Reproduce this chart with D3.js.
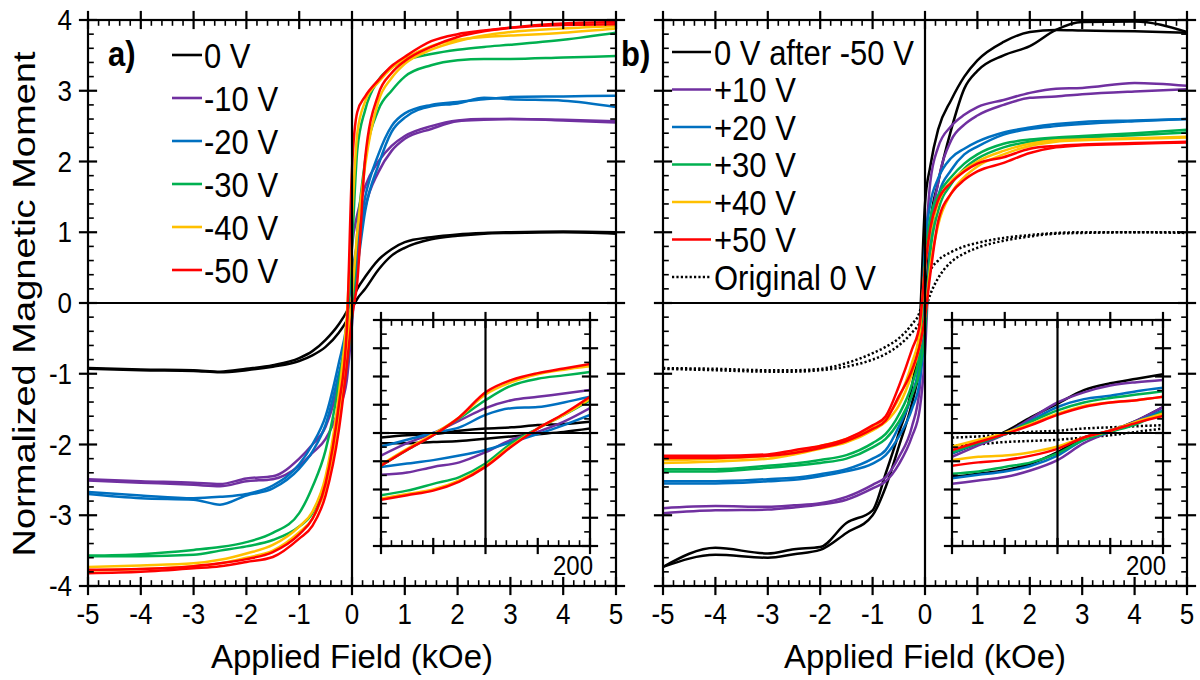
<!DOCTYPE html>
<html><head><meta charset="utf-8">
<script src="https://cdn.jsdelivr.net/npm/d3@7"></script>
<style>
body{margin:0;background:#fff}
svg{display:block}
text{font-family:"Liberation Sans",Arial,Helvetica,sans-serif;fill:#000}
</style>
</head><body>
<svg id="chart" width="1200" height="680"></svg>
<script>
// Applied field grid (kOe) shared by every main-panel branch
const field = [-5,-4,-3,-2.5,-2,-1.5,-1,-0.75,-0.5,-0.25,-0.1,0,0.1,0.25,0.5,0.75,1,1.5,2,2.5,3,4,5];

// Panel a) — normalized moment, descending (down) and ascending (up) field branches
const a0Down  = [-0.92,-0.94,-0.95,-0.97,-0.93,-0.88,-0.78,-0.68,-0.52,-0.30,-0.12,0.05,0.20,0.37,0.61,0.76,0.86,0.93,0.97,0.99,1.00,1.01,1.00];
const a0Up    = [-0.93,-0.95,-0.96,-0.98,-0.95,-0.90,-0.82,-0.74,-0.62,-0.42,-0.25,-0.08,0.06,0.20,0.47,0.67,0.78,0.90,0.95,0.98,0.99,1.00,0.98];
const a10Down = [-2.49,-2.52,-2.54,-2.56,-2.48,-2.45,-2.20,-2.00,-1.75,-1.10,-0.35,0.80,1.25,1.65,2.00,2.22,2.36,2.50,2.58,2.60,2.60,2.58,2.55];
const a10Up   = [-2.51,-2.54,-2.57,-2.59,-2.52,-2.49,-2.30,-2.12,-1.92,-1.50,-1.10,-0.30,0.70,1.35,1.85,2.15,2.32,2.46,2.57,2.59,2.60,2.59,2.57];
const a20Down = [-2.67,-2.72,-2.76,-2.74,-2.70,-2.58,-2.28,-2.00,-1.60,-0.85,-0.30,0.40,0.85,1.50,2.10,2.50,2.68,2.80,2.84,2.88,2.91,2.92,2.93];
const a20Up   = [-2.70,-2.76,-2.78,-2.85,-2.72,-2.62,-2.34,-2.10,-1.72,-1.00,-0.50,0.00,0.50,1.30,1.95,2.42,2.62,2.78,2.82,2.90,2.88,2.86,2.77];
const a30Down = [-3.57,-3.55,-3.49,-3.45,-3.38,-3.25,-2.97,-2.60,-2.08,-1.13,-0.30,0.80,2.16,2.73,3.15,3.33,3.43,3.52,3.58,3.62,3.65,3.72,3.82];
const a30Up   = [-3.58,-3.58,-3.56,-3.50,-3.44,-3.35,-3.16,-2.97,-2.50,-1.60,-0.90,-0.20,1.00,2.02,2.73,3.00,3.20,3.36,3.43,3.45,3.45,3.47,3.49];
const a40Down = [-3.73,-3.71,-3.68,-3.63,-3.54,-3.42,-3.16,-2.95,-2.45,-1.30,-0.20,1.20,2.40,2.85,3.12,3.32,3.45,3.63,3.72,3.76,3.78,3.82,3.88];
const a40Up   = [-3.78,-3.76,-3.72,-3.68,-3.60,-3.50,-3.24,-3.05,-2.60,-1.60,-0.60,0.10,1.00,1.95,2.85,3.18,3.38,3.58,3.70,3.78,3.83,3.88,3.91];
const a50Down = [-3.77,-3.76,-3.72,-3.68,-3.62,-3.52,-3.27,-3.05,-2.55,-1.45,-0.40,1.90,2.70,2.92,3.15,3.35,3.48,3.70,3.80,3.85,3.89,3.93,3.94];
const a50Up   = [-3.82,-3.80,-3.75,-3.72,-3.66,-3.59,-3.33,-3.15,-2.72,-1.80,-0.90,-0.20,0.30,2.05,2.95,3.25,3.42,3.62,3.76,3.84,3.89,3.95,3.97];

// Panel b)
const bAfterDown = [-3.73,-3.46,-3.54,-3.48,-3.45,-3.11,-2.93,-2.41,-1.84,-1.18,-0.30,1.40,1.93,2.45,2.87,3.20,3.43,3.69,3.83,3.86,3.85,3.84,3.82];
const bAfterUp   = [-3.73,-3.56,-3.60,-3.55,-3.49,-3.25,-3.00,-2.60,-2.03,-1.42,-0.90,-0.20,1.10,1.70,2.45,3.03,3.28,3.50,3.63,3.86,3.97,3.98,3.83];
const b10Down = [-2.90,-2.87,-2.88,-2.86,-2.83,-2.74,-2.57,-2.46,-2.18,-1.75,-1.20,0.60,1.70,2.20,2.50,2.66,2.77,2.87,2.97,3.03,3.04,3.11,3.07];
const b10Up   = [-2.97,-2.93,-2.92,-2.89,-2.85,-2.78,-2.62,-2.52,-2.28,-1.89,-1.50,-0.70,0.90,1.70,2.30,2.52,2.65,2.80,2.90,2.92,2.95,2.99,3.02];
const b20Down = [-2.52,-2.52,-2.49,-2.47,-2.42,-2.35,-2.20,-2.08,-1.75,-1.30,-0.80,0.80,1.40,1.76,2.05,2.18,2.28,2.41,2.48,2.53,2.56,2.58,2.60];
const b20Up   = [-2.55,-2.55,-2.52,-2.50,-2.45,-2.38,-2.27,-2.15,-1.89,-1.50,-1.10,-0.40,0.80,1.50,1.88,2.10,2.21,2.38,2.46,2.50,2.53,2.57,2.60];
const b30Down = [-2.35,-2.35,-2.30,-2.27,-2.22,-2.15,-1.98,-1.85,-1.58,-1.15,-0.70,0.60,1.20,1.52,1.78,1.97,2.10,2.25,2.31,2.34,2.36,2.40,2.45];
const b30Up   = [-2.38,-2.38,-2.33,-2.30,-2.26,-2.20,-2.04,-1.92,-1.68,-1.30,-0.95,-0.40,0.70,1.30,1.68,1.90,2.04,2.20,2.28,2.32,2.34,2.37,2.41];
const b40Down = [-2.22,-2.20,-2.16,-2.10,-2.02,-1.92,-1.75,-1.62,-1.35,-0.85,-0.40,0.50,1.00,1.42,1.72,1.88,2.00,2.15,2.25,2.30,2.31,2.33,2.35];
const b40Up   = [-2.26,-2.24,-2.20,-2.14,-2.06,-1.97,-1.80,-1.68,-1.45,-1.00,-0.60,-0.20,0.50,1.10,1.55,1.78,1.93,2.10,2.22,2.28,2.30,2.32,2.34];
const b50Down = [-2.16,-2.16,-2.14,-2.08,-2.02,-1.92,-1.73,-1.60,-1.18,-0.66,-0.30,0.50,1.05,1.45,1.70,1.86,1.97,2.06,2.18,2.22,2.24,2.26,2.28];
const b50Up   = [-2.19,-2.19,-2.16,-2.12,-2.05,-1.95,-1.78,-1.66,-1.32,-0.95,-0.60,-0.20,0.40,1.15,1.55,1.74,1.86,1.98,2.12,2.20,2.23,2.25,2.27];
const bOrigDown = [-0.92,-0.93,-0.95,-0.95,-0.93,-0.85,-0.71,-0.62,-0.50,-0.30,-0.12,0.20,0.45,0.60,0.72,0.80,0.85,0.92,0.96,0.99,1.00,1.00,0.99];
const bOrigUp   = [-0.93,-0.95,-0.97,-0.97,-0.95,-0.90,-0.80,-0.72,-0.60,-0.42,-0.28,-0.10,0.12,0.35,0.58,0.70,0.78,0.88,0.94,0.98,0.99,1.00,1.00];

// Low-field insets: field in Oe
const insetField = [-200,-150,-100,-50,0,50,100,150,200];
const ia0Down  = [-0.04,-0.02,-0.01,0.02,0.04,0.05,0.07,0.08,0.10];
const ia0Up    = [-0.09,-0.09,-0.08,-0.07,-0.05,-0.03,-0.01,0.01,0.04];
const ia10Down = [-0.20,-0.09,0.00,0.11,0.22,0.29,0.32,0.35,0.38];
const ia10Up   = [-0.37,-0.35,-0.30,-0.26,-0.17,-0.06,0.01,0.10,0.22];
const ia20Down = [-0.12,-0.06,0.00,0.05,0.16,0.22,0.23,0.27,0.32];
const ia20Up   = [-0.30,-0.27,-0.24,-0.20,-0.15,-0.08,-0.01,0.07,0.16];
const ia30Down = [-0.29,-0.15,-0.02,0.13,0.29,0.42,0.48,0.51,0.54];
const ia30Up   = [-0.55,-0.51,-0.45,-0.39,-0.27,-0.09,0.04,0.16,0.29];
const ia40Down = [-0.28,-0.14,-0.01,0.14,0.34,0.45,0.52,0.56,0.59];
const ia40Up   = [-0.58,-0.54,-0.50,-0.42,-0.29,-0.11,0.04,0.16,0.30];
const ia50Down = [-0.29,-0.15,-0.02,0.14,0.36,0.47,0.53,0.57,0.61];
const ia50Up   = [-0.59,-0.55,-0.51,-0.43,-0.30,-0.12,0.04,0.17,0.32];

const ibAfterDown = [-0.18,-0.09,0.01,0.14,0.26,0.38,0.44,0.48,0.52];
const ibAfterUp   = [-0.39,-0.36,-0.33,-0.27,-0.17,-0.04,0.02,0.11,0.23];
const ib10Down = [-0.21,-0.11,-0.01,0.13,0.27,0.36,0.42,0.45,0.47];
const ib10Up   = [-0.45,-0.42,-0.39,-0.33,-0.24,-0.09,0.01,0.11,0.23];
const ib20Down = [-0.18,-0.09,-0.01,0.11,0.23,0.30,0.33,0.37,0.40];
const ib20Up   = [-0.40,-0.37,-0.34,-0.29,-0.20,-0.06,0.01,0.10,0.20];
const ib30Down = [-0.17,-0.09,-0.01,0.10,0.20,0.27,0.31,0.34,0.37];
const ib30Up   = [-0.36,-0.34,-0.30,-0.26,-0.18,-0.06,0.01,0.08,0.19];
const ib40Down = [-0.12,-0.06,0.00,0.08,0.17,0.24,0.27,0.29,0.32];
const ib40Up   = [-0.24,-0.21,-0.20,-0.17,-0.12,-0.04,0.02,0.10,0.17];
const ib50Down = [-0.15,-0.08,-0.01,0.07,0.16,0.23,0.27,0.29,0.32];
const ib50Up   = [-0.29,-0.26,-0.24,-0.20,-0.14,-0.04,0.02,0.09,0.15];
const ibOrigDown = [-0.04,-0.03,-0.01,0.01,0.02,0.04,0.05,0.06,0.07];
const ibOrigUp   = [-0.11,-0.10,-0.08,-0.07,-0.06,-0.04,-0.02,0.01,0.04];

// Axis tick values
const xTickLabels = [-5,-4,-3,-2,-1,0,1,2,3,4,5];
const yTickLabels = [-4,-3,-2,-1,0,1,2,3,4];
const insetXTicks = [-200,-100,0,100,200];
const insetYTicks = [-1,-0.75,-0.5,-0.25,0,0.25,0.5,0.75,1];

// Legend entries
const legendA = ["0 V","-10 V","-20 V","-30 V","-40 V","-50 V"];
const legendB = ["0 V after -50 V","+10 V","+20 V","+30 V","+40 V","+50 V","Original 0 V"];
const colors = {black:"#000000", purple:"#7030a0", blue:"#0070c0", green:"#00b050", orange:"#ffc000", red:"#ff0000"};

const seriesA = [
  {name:legendA[0], color:colors.black,  down:a0Down,  up:a0Up,  inDown:ia0Down,  inUp:ia0Up},
  {name:legendA[1], color:colors.purple, down:a10Down, up:a10Up, inDown:ia10Down, inUp:ia10Up},
  {name:legendA[2], color:colors.blue,   down:a20Down, up:a20Up, inDown:ia20Down, inUp:ia20Up},
  {name:legendA[3], color:colors.green,  down:a30Down, up:a30Up, inDown:ia30Down, inUp:ia30Up},
  {name:legendA[4], color:colors.orange, down:a40Down, up:a40Up, inDown:ia40Down, inUp:ia40Up},
  {name:legendA[5], color:colors.red,    down:a50Down, up:a50Up, inDown:ia50Down, inUp:ia50Up}
];
const seriesB = [
  {name:legendB[6], color:colors.black,  dotted:true, down:bOrigDown, up:bOrigUp, inDown:ibOrigDown, inUp:ibOrigUp},
  {name:legendB[0], color:colors.black,  down:bAfterDown, up:bAfterUp, inDown:ibAfterDown, inUp:ibAfterUp},
  {name:legendB[1], color:colors.purple, down:b10Down, up:b10Up, inDown:ib10Down, inUp:ib10Up},
  {name:legendB[2], color:colors.blue,   down:b20Down, up:b20Up, inDown:ib20Down, inUp:ib20Up},
  {name:legendB[3], color:colors.green,  down:b30Down, up:b30Up, inDown:ib30Down, inUp:ib30Up},
  {name:legendB[4], color:colors.orange, down:b40Down, up:b40Up, inDown:ib40Down, inUp:ib40Up},
  {name:legendB[5], color:colors.red,    down:b50Down, up:b50Up, inDown:ib50Down, inUp:ib50Up}
];

const svg = d3.select("#chart");
const SY = 1.12;           // glyphs are drawn slightly tall
const AXW = 2.2;           // frame stroke width
const CURVE_W = 2.5;       // data line width

function label(g, x, y, s, size, anchor, weight){
  return g.append("text")
    .attr("transform", `translate(${x},${y}) scale(1,${SY})`)
    .attr("font-size", size)
    .attr("text-anchor", anchor || "start")
    .attr("font-weight", weight || "normal")
    .text(s);
}

function seg(g, x1, y1, x2, y2, w){
  g.append("line").attr("x1",x1).attr("y1",y1).attr("x2",x2).attr("y2",y2)
    .attr("stroke","#000").attr("stroke-width", w || AXW).attr("stroke-linecap","square");
}

// Box frame with crossing major ticks and inward minor ticks on all four sides
function frame(g, x, y, xMajor, xMinor, yMajor, yMinor, tk){
  const [X0, X1] = x.range();
  const [Y1, Y0] = y.range();
  g.append("rect").attr("x",X0).attr("y",Y0).attr("width",X1-X0).attr("height",Y1-Y0)
    .attr("fill","none").attr("stroke","#000").attr("stroke-width",AXW);
  xMajor.forEach(v => { const p = x(v);
    seg(g, p, Y1 - tk.inn, p, Y1 + tk.out); seg(g, p, Y0 - tk.out, p, Y0 + tk.inn); });
  xMinor.forEach(v => { const p = x(v);
    seg(g, p, Y1 - tk.minor, p, Y1, 1.6); seg(g, p, Y0, p, Y0 + tk.minor, 1.6); });
  yMajor.forEach(v => { const p = y(v);
    seg(g, X0 - tk.out, p, X0 + tk.inn, p); seg(g, X1 - tk.inn, p, X1 + tk.out, p); });
  yMinor.forEach(v => { const p = y(v);
    seg(g, X0, p, X0 + tk.minor, p, 1.6); seg(g, X1 - tk.minor, p, X1, p, 1.6); });
  // zero cross-hair
  seg(g, x(0), Y0, x(0), Y1);
  seg(g, X0, y(0), X1, y(0));
}

function branches(s, xs, key1, key2){
  return [s[key1], s[key2]].map(arr => xs.map((f, i) => [f, arr[i]]));
}

function drawCurves(g, x, y, series, xs, kDown, kUp, clipId){
  const line = d3.line().x(d => x(d[0])).y(d => y(d[1])).curve(d3.curveMonotoneX);
  const cg = g.append("g").attr("clip-path", `url(#${clipId})`);
  series.forEach(s => {
    branches(s, xs, kDown, kUp).forEach(pts => {
      cg.append("path").attr("d", line(pts)).attr("fill","none")
        .attr("stroke", s.color).attr("stroke-width", CURVE_W)
        .attr("stroke-dasharray", s.dotted ? "2.2,2.2" : null)
        .attr("stroke-linejoin","round");
    });
  });
}

const xMinorMain = d3.range(-50, 51, 2).filter(v => v % 10 !== 0).map(v => v / 10);
const yMinorMain = d3.range(-40, 41, 2).filter(v => v % 10 !== 0).map(v => v / 10);
const xMinorInset = d3.range(-200, 201, 20).filter(v => v % 100 !== 0);
const yMinorInset = d3.range(-8, 9, 1).filter(v => v % 2 !== 0).map(v => v / 8);

const defs = svg.append("defs");

function panel(cfg){
  const g = svg.append("g");
  const x = d3.scaleLinear().domain([-5,5]).range([cfg.x0, cfg.x1]);
  const y = d3.scaleLinear().domain([-4,4]).range([586, 20]);
  defs.append("clipPath").attr("id", cfg.id + "clip").append("rect")
    .attr("x", cfg.x0).attr("y", 20).attr("width", cfg.x1 - cfg.x0).attr("height", 566);

  drawCurves(g, x, y, cfg.series, field, "down", "up", cfg.id + "clip");
  frame(g, x, y, xTickLabels, xMinorMain, yTickLabels, yMinorMain, {out:8, inn:8, minor:5});

  // low-field inset
  const ix = d3.scaleLinear().domain([-200,200]).range([cfg.ix0, cfg.ix1]);
  const iy = d3.scaleLinear().domain([-1,1]).range([546, 320]);
  g.append("rect").attr("x",cfg.ix0).attr("y",320).attr("width",cfg.ix1-cfg.ix0).attr("height",226).attr("fill","#fff");
  defs.append("clipPath").attr("id", cfg.id + "iclip").append("rect")
    .attr("x", cfg.ix0).attr("y", 320).attr("width", cfg.ix1 - cfg.ix0).attr("height", 226);
  drawCurves(g, ix, iy, cfg.series, insetField, "inDown", "inUp", cfg.id + "iclip");
  frame(g, ix, iy, insetXTicks, xMinorInset, insetYTicks, yMinorInset, {out:7, inn:7, minor:5});
  label(g, cfg.ix1 + 3, 575, String(insetXTicks[4]), 24, "end");

  // x tick labels and title
  xTickLabels.forEach(v => label(g, x(v), 624, String(v), 26, "middle"));
  g.append("text")
    .attr("transform", `translate(${x(0)},668) scale(1,${SY})`)
    .attr("font-size", 30).attr("text-anchor","middle")
    .attr("textLength", 282).attr("lengthAdjust","spacingAndGlyphs")
    .text("Applied Field (kOe)");
  return {g, x, y};
}

const A = panel({id:"a", x0:88, x1:616, ix0:381, ix1:590, series:seriesA});
const B = panel({id:"b", x0:663, x1:1187, ix0:952, ix1:1163, series:seriesB});

// y tick labels (left panel only) and y title
yTickLabels.forEach(v => label(A.g, 72, A.y(v) + 10, String(v), 26, "end"));
svg.append("text")
  .attr("transform", "translate(35,304) rotate(-90)")
  .attr("font-size", 32).attr("text-anchor","middle")
  .attr("textLength", 505).attr("lengthAdjust","spacingAndGlyphs")
  .text("Normalized Magnetic Moment");

// panel tags
label(A.g, 108, 66, "a)", 31, "start", "bold");
label(B.g, 621, 66, "b)", 31, "start", "bold");

// legend a
seriesA.forEach((s, i) => {
  const yy = 55 + i * 43;
  A.g.append("line").attr("x1",172).attr("x2",202).attr("y1",yy).attr("y2",yy)
    .attr("stroke", s.color).attr("stroke-width", 2.6);
  label(A.g, 204, yy + 12.5, s.name, 31);
});

// legend b
const legendOrderB = [1,2,3,4,5,6,0];
legendOrderB.forEach((k, i) => {
  const s = seriesB[k];
  const yy = 52 + i * 37.5;
  B.g.append("line").attr("x1",672).attr("x2",711).attr("y1",yy).attr("y2",yy)
    .attr("stroke", s.color).attr("stroke-width", 2.6)
    .attr("stroke-dasharray", s.dotted ? "2.2,2.2" : null);
  label(B.g, 714, yy + 12.5, s.name, 31);
});
</script>
</body></html>
